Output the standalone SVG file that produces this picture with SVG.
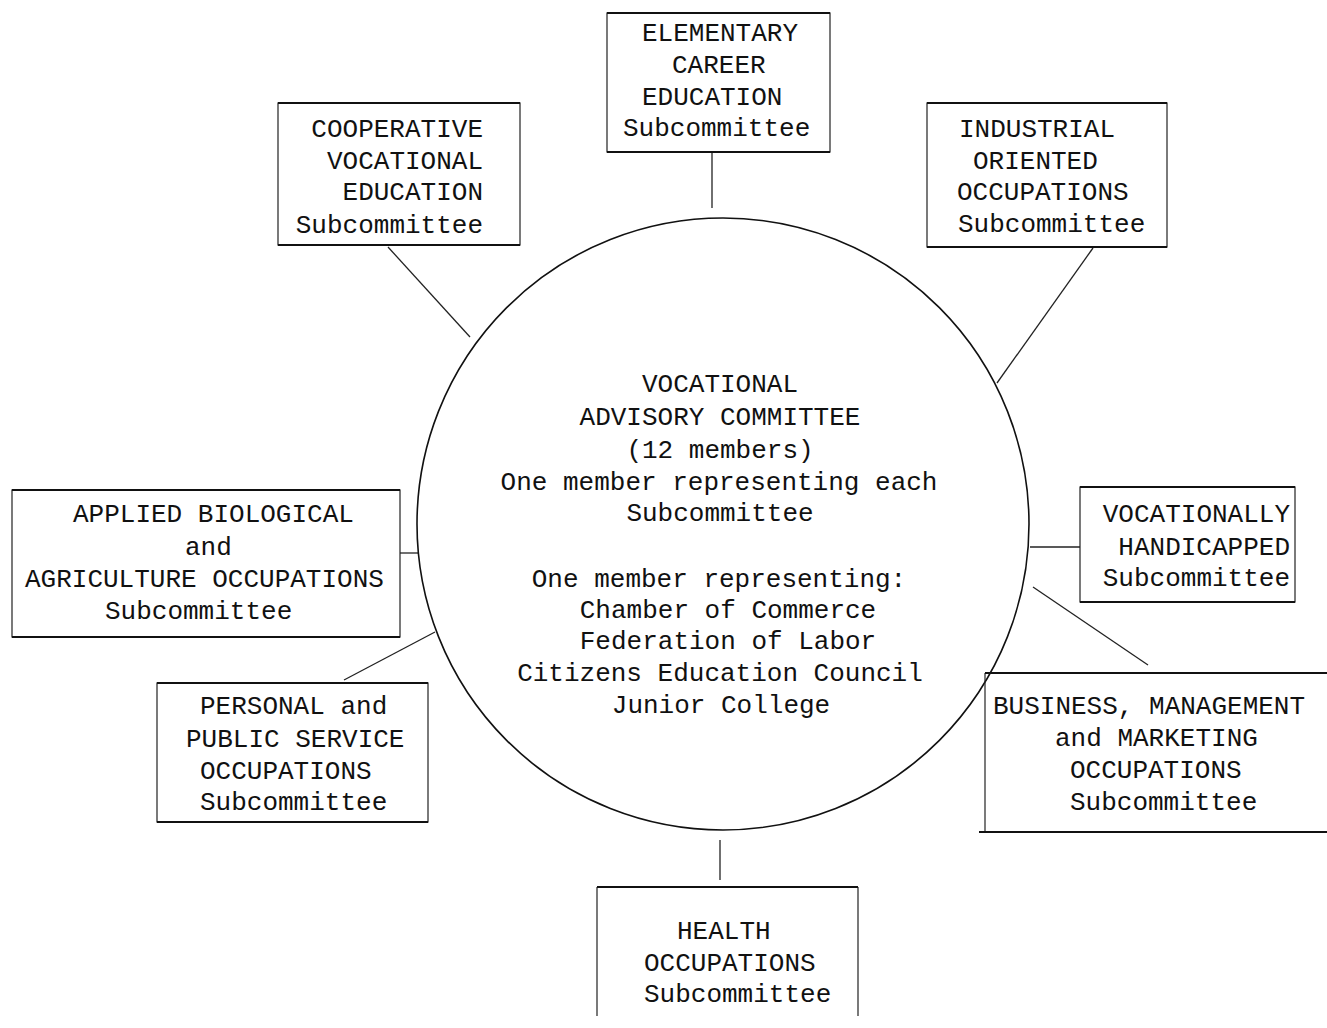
<svg xmlns="http://www.w3.org/2000/svg" width="1327" height="1028" viewBox="0 0 1327 1028">
<style>
  .side { fill: none; stroke: #222; stroke-width: 1.2; }
  .rule { fill: none; stroke: #111; stroke-width: 2.2; }
  .conn { fill: none; stroke: #222; stroke-width: 1.3; }
  .ring { fill: none; stroke: #111; stroke-width: 1.6; }
  text { font-family: "Liberation Mono", "DejaVu Sans Mono", monospace; font-size: 26px; fill: #111; }
  .m { text-anchor: middle; }
  .e { text-anchor: end; }
</style>
<rect x="0" y="0" width="1327" height="1028" fill="#ffffff"/>

<g id="connectors">
  <line class="conn" x1="712" y1="153" x2="712" y2="208"/>
  <line class="conn" x1="388" y1="247" x2="470" y2="337"/>
  <line class="conn" x1="1093" y1="248" x2="997" y2="383"/>
  <line class="conn" x1="400" y1="553" x2="418" y2="553"/>
  <line class="conn" x1="1030" y1="547" x2="1080" y2="547"/>
  <line class="conn" x1="1033" y1="587" x2="1148" y2="665"/>
  <line class="conn" x1="344" y1="680" x2="435" y2="632"/>
  <line class="conn" x1="720" y1="840" x2="720" y2="880"/>
</g>

<g id="committee">
  <circle class="ring" cx="723" cy="524" r="306"/>
  <text class="m" x="720" y="392">VOCATIONAL</text>
  <text class="m" x="720" y="425">ADVISORY COMMITTEE</text>
  <text class="m" x="720" y="458">(12 members)</text>
  <text class="m" x="719" y="490">One member representing each</text>
  <text class="m" x="720" y="521">Subcommittee</text>
  <text class="m" x="719" y="587">One member representing:</text>
  <text class="m" x="728" y="618">Chamber of Commerce</text>
  <text class="m" x="728" y="649">Federation of Labor</text>
  <text class="m" x="720" y="681">Citizens Education Council</text>
  <text class="m" x="721" y="713">Junior College</text>
</g>

<g id="elementary">
  <rect class="side" x="607" y="13" width="223" height="139"/>
  <path class="rule" d="M607 13 H830 M607 152 H830"/>
  <text x="642" y="41">ELEMENTARY</text>
  <text x="672" y="73">CAREER</text>
  <text x="642" y="105">EDUCATION</text>
  <text x="623" y="136">Subcommittee</text>
</g>

<g id="cooperative">
  <rect class="side" x="278" y="103" width="242" height="142"/>
  <path class="rule" d="M278 103 H520 M278 245 H520"/>
  <text class="e" x="483" y="137">COOPERATIVE</text>
  <text class="e" x="483" y="169">VOCATIONAL</text>
  <text class="e" x="483" y="200">EDUCATION</text>
  <text class="e" x="483" y="233">Subcommittee</text>
</g>

<g id="industrial">
  <rect class="side" x="927" y="103" width="240" height="144"/>
  <path class="rule" d="M927 103 H1167 M927 247 H1167"/>
  <text x="959" y="137">INDUSTRIAL</text>
  <text x="973" y="169">ORIENTED</text>
  <text x="957" y="200">OCCUPATIONS</text>
  <text x="958" y="232">Subcommittee</text>
</g>

<g id="applied">
  <rect class="side" x="12" y="490" width="388" height="147"/>
  <path class="rule" d="M12 490 H400 M12 637 H400"/>
  <text x="73" y="522">APPLIED BIOLOGICAL</text>
  <text x="185" y="555">and</text>
  <text x="25" y="587">AGRICULTURE OCCUPATIONS</text>
  <text x="105" y="619">Subcommittee</text>
</g>

<g id="handicapped">
  <rect class="side" x="1080" y="487" width="215" height="115"/>
  <path class="rule" d="M1080 487 H1295 M1080 602 H1295"/>
  <text class="e" x="1290" y="522">VOCATIONALLY</text>
  <text class="e" x="1290" y="555">HANDICAPPED</text>
  <text class="e" x="1290" y="586">Subcommittee</text>
</g>

<g id="personal">
  <rect class="side" x="157" y="683" width="271" height="139"/>
  <path class="rule" d="M157 683 H428 M157 822 H428"/>
  <text x="200" y="714">PERSONAL and</text>
  <text x="186" y="747">PUBLIC SERVICE</text>
  <text x="200" y="779">OCCUPATIONS</text>
  <text x="200" y="810">Subcommittee</text>
</g>

<g id="business">
  <path class="side" d="M985 673 V832"/>
  <path class="rule" d="M985 673 H1327 M979 832 H1327"/>
  <text x="993" y="714">BUSINESS, MANAGEMENT</text>
  <text x="1055" y="746">and MARKETING</text>
  <text x="1070" y="778">OCCUPATIONS</text>
  <text x="1070" y="810">Subcommittee</text>
</g>

<g id="health">
  <path class="side" d="M597 1016 V887 M858 887 V1016"/>
  <path class="rule" d="M597 887 H858"/>
  <text x="677" y="939">HEALTH</text>
  <text x="644" y="971">OCCUPATIONS</text>
  <text x="644" y="1002">Subcommittee</text>
</g>
</svg>
